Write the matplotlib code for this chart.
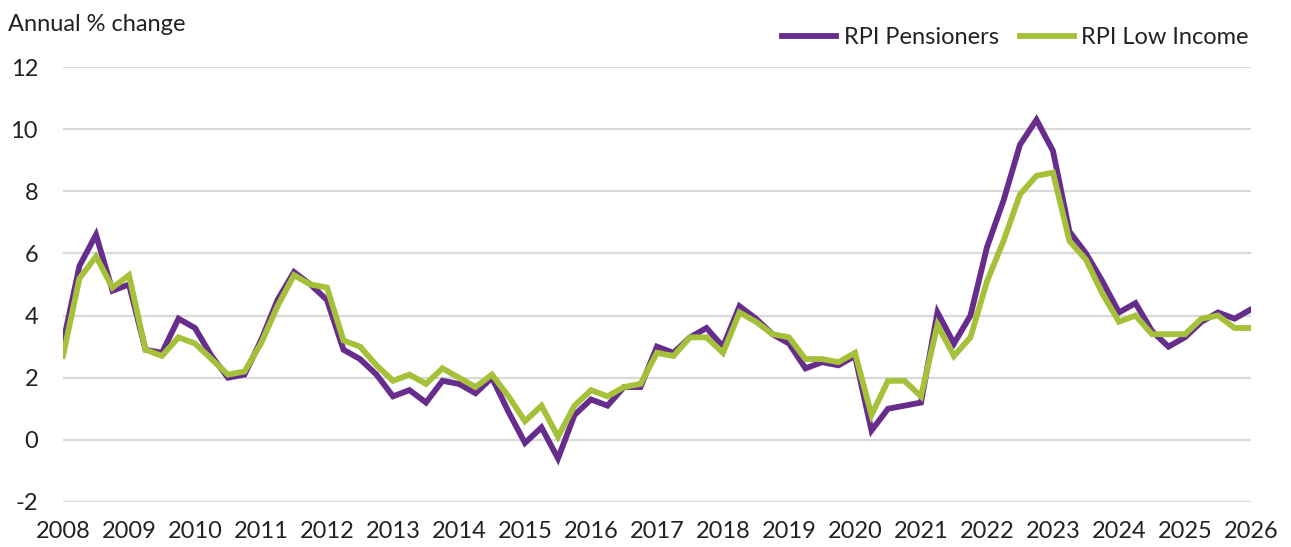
import matplotlib.pyplot as plt
import numpy as np

years = [str(y) for y in range(2008, 2027)]

# quarterly, 2008 Q1 .. 2026 Q1
pensioners = [3.1, 5.6, 6.6, 4.8, 5.0, 2.9, 2.8, 3.9, 3.6, 2.7, 2.0, 2.1,
              3.2, 4.5, 5.4, 5.0, 4.5, 2.9, 2.6, 2.1, 1.4, 1.6, 1.2, 1.9,
              1.8, 1.5, 2.0, 0.9, -0.1, 0.4, -0.6, 0.8, 1.3, 1.1, 1.7, 1.7,
              3.0, 2.8, 3.3, 3.6, 3.0, 4.3, 3.9, 3.4, 3.1, 2.3, 2.5, 2.4,
              2.7, 0.3, 1.0, 1.1, 1.2, 4.1, 3.1, 4.0, 6.2, 7.7, 9.5, 10.3,
              9.3, 6.7, 6.0, 5.1, 4.1, 4.4, 3.5, 3.0, 3.3, 3.8, 4.1, 3.9,
              4.2]
low_income = [2.7, 5.2, 5.9, 4.9, 5.3, 2.9, 2.7, 3.3, 3.1, 2.6, 2.1, 2.2,
              3.1, 4.3, 5.3, 5.0, 4.9, 3.2, 3.0, 2.4, 1.9, 2.1, 1.8, 2.3,
              2.0, 1.7, 2.1, 1.4, 0.6, 1.1, 0.1, 1.1, 1.6, 1.4, 1.7, 1.8,
              2.8, 2.7, 3.3, 3.3, 2.8, 4.1, 3.8, 3.4, 3.3, 2.6, 2.6, 2.5,
              2.8, 0.8, 1.9, 1.9, 1.4, 3.7, 2.7, 3.3, 5.1, 6.4, 7.9, 8.5,
              8.6, 6.4, 5.8, 4.7, 3.8, 4.0, 3.4, 3.4, 3.4, 3.9, 4.0, 3.6,
              3.6]

purple = '#662D8C'
green = '#A5C13A'
plt.rcParams['font.family'] = ['Lato', 'DejaVu Sans']
plt.rcParams['axes.unicode_minus'] = False

fig = plt.figure(figsize=(12.91, 5.47), dpi=100)
ax = fig.add_axes([0.0488, 0.0823, 0.9202, 0.7952])

x = np.arange(len(pensioners))
ax.plot(x, pensioners, color=purple, lw=4.2, label='RPI Pensioners', solid_joinstyle='miter', zorder=3)
ax.plot(x, low_income, color=green, lw=4.2, label='RPI Low Income', solid_joinstyle='miter', zorder=4)

ax.set_xlim(0, len(x) - 1)
ax.set_ylim(-2, 12)
ax.set_yticks(range(-2, 13, 2))
ax.set_xticks(range(0, len(x), 4))
ax.set_xticklabels(years)
ax.tick_params(axis='both', length=0, labelsize=17, colors='#222222')
ax.tick_params(axis='y', pad=18)
ax.tick_params(axis='x', pad=14)
ax.grid(axis='y', color='#d9d9d9', lw=1.6)
ax.set_axisbelow(True)
for s in ax.spines.values():
    s.set_visible(False)

fig.text(0.006, 0.955, 'Annual % change', fontsize=17, color='#222222', va='center')

leg = ax.legend(loc='center right', bbox_to_anchor=(1.006, 1.067), ncol=2, frameon=True,
                fontsize=17, handlelength=2.3, columnspacing=0.9, handletextpad=0.3,
                borderpad=0.4, borderaxespad=0, fancybox=False)
leg.get_frame().set_facecolor('white')
leg.get_frame().set_edgecolor('white')
leg.get_frame().set_alpha(1)
for t in leg.get_texts():
    t.set_color('#222222')

fig.savefig('out.png', dpi=100)
